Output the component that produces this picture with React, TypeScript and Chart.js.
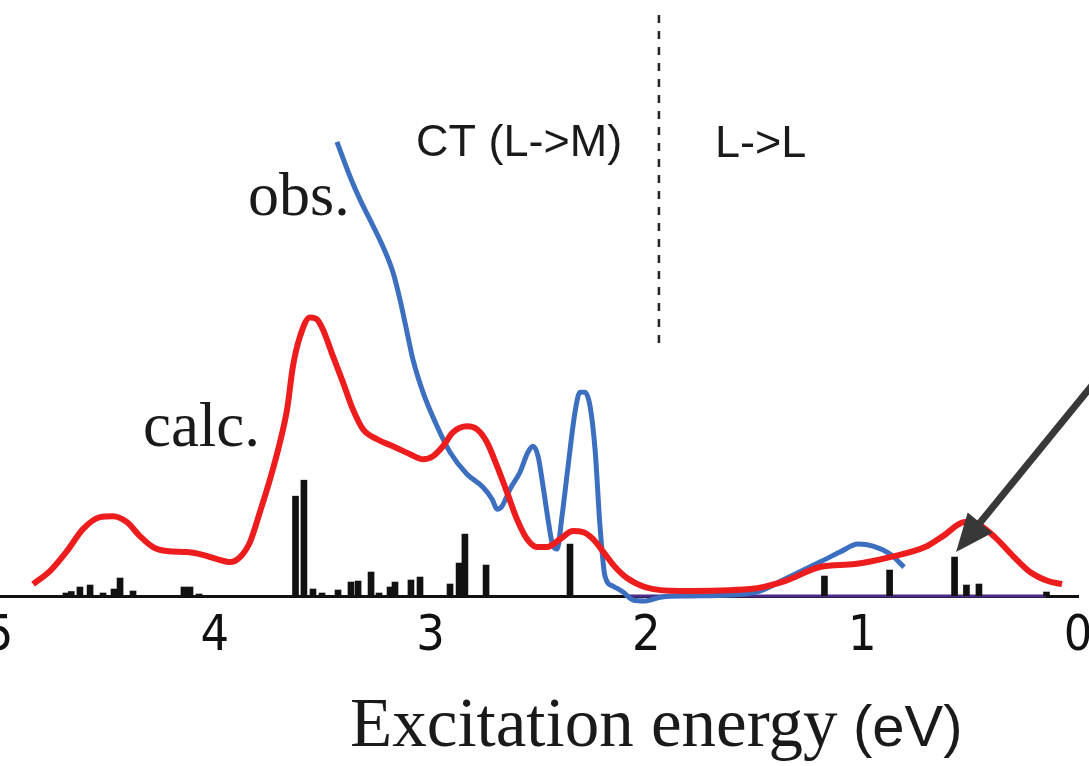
import React, { useEffect, useRef } from "react";
import { Chart, registerables } from "chart.js";

Chart.register(...registerables);

// ---- data (energy in eV, intensity in arbitrary units) ----
const xTickValues = [0, 1, 2, 3, 4, 5];

const calcEnergy = [4.842, 4.764, 4.685, 4.611, 4.532, 4.472, 4.407, 4.347, 4.286, 4.222, 4.129, 4.069, 3.99, 3.93, 3.883, 3.837, 3.791, 3.744, 3.698, 3.665, 3.638, 3.605, 3.559, 3.526, 3.499, 3.452, 3.406, 3.36, 3.313, 3.248, 3.174, 3.095, 3.035, 2.989, 2.943, 2.896, 2.831, 2.785, 2.739, 2.692, 2.646, 2.6, 2.553, 2.507, 2.461, 2.4, 2.34, 2.294, 2.247, 2.192, 2.145, 2.09, 2.006, 1.844, 1.52, 1.358, 1.196, 1.033, 0.871, 0.709, 0.626, 0.524, 0.463, 0.385, 0.301, 0.222, 0.139, 0.074];
const calcIntensity = [1.2, 2.5, 4.5, 6.7, 7.9, 8.0, 7.4, 6.0, 4.9, 4.5, 4.4, 4.2, 3.7, 3.4, 3.9, 5.4, 8.4, 11.7, 15.4, 18.7, 23.0, 26.0, 27.9, 27.7, 26.7, 24.0, 21.4, 18.7, 16.7, 15.7, 15.0, 14.2, 13.7, 14.0, 15.0, 16.4, 17.0, 16.7, 15.4, 13.0, 10.4, 7.7, 5.7, 4.9, 4.9, 5.7, 6.5, 6.4, 5.7, 4.2, 2.9, 1.8, 0.9, 0.5, 0.7, 1.5, 2.9, 3.2, 3.9, 4.9, 6.0, 7.4, 7.2, 5.9, 4.0, 2.4, 1.5, 1.2];

const obsEnergy = [3.434, 3.373, 3.327, 3.281, 3.221, 3.174, 3.142, 3.109, 3.082, 3.035, 2.97, 2.91, 2.831, 2.757, 2.715, 2.692, 2.669, 2.632, 2.586, 2.549, 2.526, 2.502, 2.479, 2.456, 2.433, 2.414, 2.391, 2.363, 2.331, 2.308, 2.285, 2.261, 2.238, 2.215, 2.192, 2.155, 2.108, 2.062, 2.006, 1.928, 1.798, 1.613, 1.474, 1.358, 1.196, 1.103, 1.019, 0.95, 0.871, 0.806];
const obsIntensity = [45.5, 42.0, 39.7, 37.7, 35.0, 32.4, 29.7, 26.4, 23.7, 20.4, 17.0, 14.4, 12.2, 10.9, 9.7, 8.7, 9.0, 10.7, 12.4, 14.4, 15.0, 14.0, 11.0, 7.7, 5.0, 4.7, 8.0, 13.0, 18.4, 20.4, 20.4, 19.0, 14.7, 7.0, 2.0, 1.0, 0.4, -0.4, -0.5, -0.1, 0.0, 0.1, 0.5, 1.7, 3.4, 4.4, 5.2, 5.0, 4.2, 2.9];

const stickEnergy = [4.69, 4.665, 4.625, 4.578, 4.518, 4.467, 4.439, 4.379, 4.143, 4.115, 4.073, 3.626, 3.587, 3.545, 3.503, 3.429, 3.369, 3.336, 3.276, 3.239, 3.188, 3.165, 3.091, 3.049, 2.91, 2.868, 2.841, 2.743, 2.354, 1.175, 0.873, 0.572, 0.517, 0.459, 0.146];
const stickIntensity = [0.3, 0.45, 0.9, 1.1, 0.3, 0.7, 1.8, 0.5, 0.9, 0.9, 0.2, 10.0, 11.6, 0.7, 0.3, 0.6, 1.4, 1.5, 2.4, 0.3, 0.9, 1.4, 1.6, 1.9, 1.2, 3.3, 6.2, 3.1, 5.2, 2.0, 2.6, 3.9, 1.1, 1.2, 0.4];

const dividerEnergy = [1.942, 1.942];
const dividerIntensity = [58.2, 25.2];

const baselineEnergy = [2.1, 0.15];
const baselineIntensity = [0, 0];

const arrowEnergy = [-0.08, 0.565];
const arrowIntensity = [21.5, 4.4];

// text annotations (anchored in data coordinates: energy, intensity)
const annotationTexts = [
  { text: "obs.", e: 3.846, v: 38.2, font: '62px "Liberation Serif", "Times New Roman", serif' },
  { text: "calc.", e: 4.333, v: 15.0, font: '63px "Liberation Serif", "Times New Roman", serif' },
  { text: "CT (L->M)", e: 3.068, v: 44.1, font: '45px "Liberation Sans", Arial, sans-serif' },
  { text: "L->L", e: 1.682, v: 44.0, font: '45px "Liberation Sans", Arial, sans-serif' },
  { text: "Excitation energy", e: 3.373, v: -15.0, font: '69px "Liberation Serif", "Times New Roman", serif' },
  { text: "(eV)", e: 1.043, v: -15.0, font: '58px "Liberation Sans Narrow", "Liberation Sans", Arial, sans-serif' },
];

const toPoints = (xs: number[], ys: number[]) => xs.map((x, i) => ({ x, y: ys[i] }));

const annotationPlugin = {
  id: "annotations",
  afterDraw(chart: any) {
    const { ctx } = chart;
    const xs = chart.scales.x;
    const ys = chart.scales.y;
    ctx.save();
    ctx.fillStyle = "#1a1a1a";
    ctx.textAlign = "left";
    ctx.textBaseline = "alphabetic";
    for (const t of annotationTexts) {
      ctx.font = t.font;
      ctx.fillText(t.text, xs.getPixelForValue(t.e), ys.getPixelForValue(t.v));
    }
    // arrow
    const x0 = xs.getPixelForValue(arrowEnergy[0]);
    const y0 = ys.getPixelForValue(arrowIntensity[0]);
    const x1 = xs.getPixelForValue(arrowEnergy[1]);
    const y1 = ys.getPixelForValue(arrowIntensity[1]);
    const ang = Math.atan2(y1 - y0, x1 - x0);
    const headLen = 38;
    const headHalf = 16;
    const bx = x1 - headLen * Math.cos(ang);
    const by = y1 - headLen * Math.sin(ang);
    ctx.strokeStyle = "#383838";
    ctx.fillStyle = "#383838";
    ctx.lineWidth = 7;
    ctx.lineCap = "butt";
    ctx.beginPath();
    ctx.moveTo(x0, y0);
    ctx.lineTo(bx + 4 * Math.cos(ang), by + 4 * Math.sin(ang));
    ctx.stroke();
    ctx.beginPath();
    ctx.moveTo(x1, y1);
    ctx.lineTo(bx + headHalf * Math.sin(ang), by - headHalf * Math.cos(ang));
    ctx.lineTo(bx - headHalf * Math.sin(ang), by + headHalf * Math.cos(ang));
    ctx.closePath();
    ctx.fill();
    ctx.restore();
  },
};

export default function App() {
  const canvasRef = useRef<HTMLCanvasElement | null>(null);

  useEffect(() => {
    const canvas = canvasRef.current;
    if (!canvas) return;
    const chart = new Chart(canvas, {
      type: "line",
      data: {
        datasets: [
          {
            type: "line",
            label: "calc.",
            data: toPoints(calcEnergy, calcIntensity),
            borderColor: "#ee1d1d",
            borderWidth: 6,
            pointRadius: 0,
            cubicInterpolationMode: "monotone",
            clip: false,
            order: 0,
          },
          {
            type: "line",
            label: "obs.",
            data: toPoints(obsEnergy, obsIntensity),
            borderColor: "#3d6fc0",
            borderWidth: 5,
            pointRadius: 0,
            cubicInterpolationMode: "monotone",
            clip: false,
            order: 1,
          },
          {
            type: "bar",
            label: "sticks",
            data: toPoints(stickEnergy, stickIntensity),
            backgroundColor: "#111111",
            borderWidth: 0,
            barThickness: 6,
            order: 2,
          },
          {
            type: "line",
            label: "divider",
            data: toPoints(dividerEnergy, dividerIntensity),
            borderColor: "#222222",
            borderWidth: 2.5,
            borderDash: [8, 8],
            pointRadius: 0,
            clip: false,
            order: 3,
          },
          {
            type: "line",
            label: "baseline",
            data: toPoints(baselineEnergy, baselineIntensity),
            borderColor: "#4a2c8c",
            borderWidth: 3,
            pointRadius: 0,
            clip: false,
            order: 4,
          },
        ],
      } as any,
      options: {
        responsive: false,
        animation: false,
        layout: { padding: { left: 39, right: 51, top: 0, bottom: 96 } },
        plugins: {
          legend: { display: false },
          tooltip: { enabled: false },
        },
        elements: { point: { radius: 0 } },
        scales: {
          x: {
            type: "linear",
            reverse: true,
            min: 0,
            max: 5,
            offset: false,
            afterBuildTicks: (scale: any) => {
              scale.ticks = xTickValues.map((v) => ({ value: v }));
            },
            grid: { display: false, offset: false },
            border: { display: true, color: "#111111", width: 3 },
            ticks: {
              stepSize: 1,
              padding: 8,
              color: "#111111",
              maxRotation: 0,
              autoSkip: false,
              font: {
                family: '"Liberation Sans Narrow", "DejaVu Sans Condensed", "Liberation Sans", sans-serif',
                size: 50,
                lineHeight: 1,
              },
            },
          },
          y: {
            type: "linear",
            display: false,
            min: 0,
            max: 59.7,
          },
        },
      } as any,
      plugins: [annotationPlugin],
    });
    return () => chart.destroy();
  }, []);

  return (
    <div
      style={{
        position: "fixed",
        left: 0,
        top: 0,
        width: 1089,
        height: 766,
        overflow: "hidden",
        background: "#ffffff",
      }}
    >
      <canvas
        ref={canvasRef}
        width={1169}
        height={766}
        style={{ position: "absolute", left: -40, top: 0, width: 1169, height: 766 }}
      />
    </div>
  );
}
